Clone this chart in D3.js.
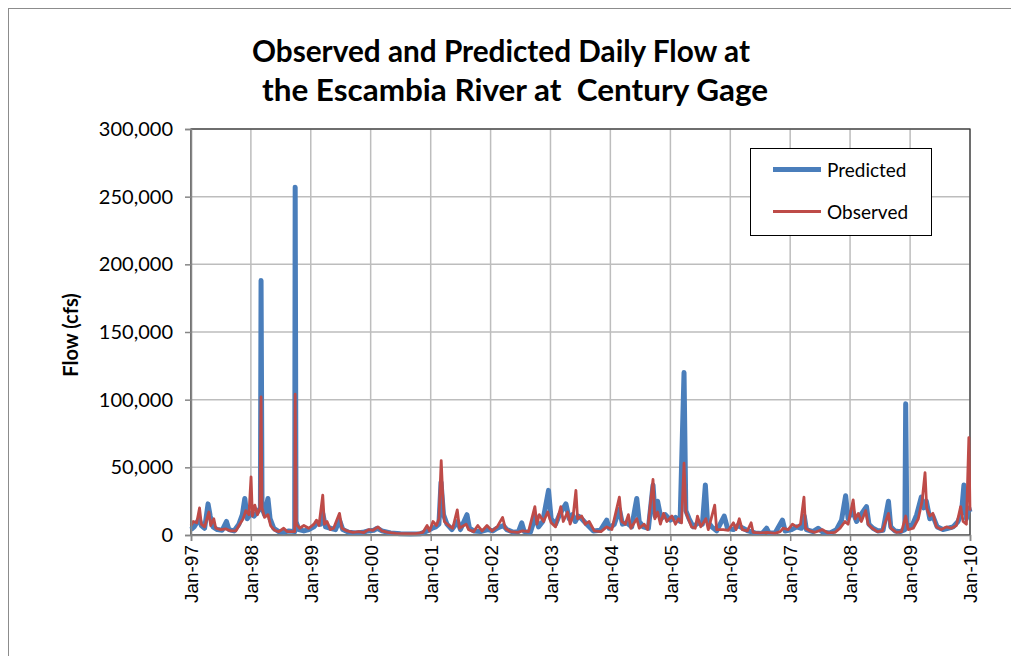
<!DOCTYPE html>
<html>
<head>
<meta charset="utf-8">
<script src="https://cdn.jsdelivr.net/npm/d3@7"></script>
<style>
  body { margin: 0; background: #fff; }
  svg text { font-family: Lato, "Open Sans", sans-serif; }
</style>
</head>
<body>
<div id="chart"></div>
<script>
// title lines
const titleLines = ["Observed and Predicted Daily Flow at", "the Escambia River at  Century Gage"];
const yTicks = [0, 50000, 100000, 150000, 200000, 250000, 300000];
const xTickYears = d3.range(1997, 2011);

// predicted flow (cfs)
const predicted = [
  ["1997-01-01", 4000], ["1997-01-20", 6000], ["1997-02-20", 12000], ["1997-03-05", 7000],
  ["1997-03-25", 5000], ["1997-04-15", 23000], ["1997-04-28", 14000], ["1997-05-15", 6000],
  ["1997-06-10", 4000], ["1997-07-10", 3500], ["1997-08-05", 10000], ["1997-08-20", 4000],
  ["1997-09-20", 3000], ["1997-10-20", 8000], ["1997-11-10", 15000], ["1997-11-25", 27000],
  ["1997-12-10", 12000], ["1997-12-30", 16000], ["1998-01-20", 14000], ["1998-02-10", 17000],
  ["1998-02-28", 20000], ["1998-03-04", 188000], ["1998-03-10", 20000], ["1998-03-25", 15000],
  ["1998-04-15", 27000], ["1998-04-28", 12000], ["1998-05-20", 5000], ["1998-06-20", 2500],
  ["1998-07-20", 2000], ["1998-08-20", 3000], ["1998-09-25", 2500], ["1998-09-28", 257000],
  ["1998-10-03", 10000], ["1998-10-20", 4000], ["1998-11-20", 3000], ["1998-12-20", 4000],
  ["1999-01-20", 6000], ["1999-02-10", 9000], ["1999-03-01", 8000], ["1999-03-15", 16000],
  ["1999-04-01", 6000], ["1999-05-01", 5000], ["1999-06-01", 4000], ["1999-06-25", 11000],
  ["1999-07-15", 4000], ["1999-08-20", 2000], ["1999-10-01", 1500], ["1999-11-15", 2000],
  ["1999-12-15", 3000], ["2000-01-20", 3500], ["2000-02-10", 5000], ["2000-03-10", 3000],
  ["2000-05-01", 1500], ["2000-07-01", 1000], ["2000-09-01", 800], ["2000-11-01", 1000],
  ["2000-12-10", 3000], ["2001-01-10", 5000], ["2001-02-01", 6000], ["2001-02-20", 8000],
  ["2001-03-05", 39000], ["2001-03-20", 15000], ["2001-04-10", 8000], ["2001-05-10", 4000],
  ["2001-06-15", 10000], ["2001-07-01", 4000], ["2001-08-10", 15000], ["2001-08-25", 5000],
  ["2001-09-20", 3000], ["2001-11-01", 2500], ["2001-12-15", 4000], ["2002-01-15", 3000],
  ["2002-02-10", 5000], ["2002-03-20", 7000], ["2002-04-10", 4000], ["2002-05-20", 2000],
  ["2002-06-20", 2500], ["2002-07-10", 9000], ["2002-07-25", 2500], ["2002-09-01", 2000],
  ["2002-10-01", 14000], ["2002-10-20", 6000], ["2002-11-15", 10000], ["2002-12-20", 33000],
  ["2003-01-05", 12000], ["2003-02-01", 8000], ["2003-02-25", 15000], ["2003-04-05", 23000],
  ["2003-04-25", 12000], ["2003-05-15", 15000], ["2003-06-01", 10000], ["2003-06-20", 14000],
  ["2003-07-10", 12000], ["2003-08-10", 8000], ["2003-09-20", 3000], ["2003-11-01", 3500],
  ["2003-12-10", 11000], ["2003-12-25", 5000], ["2004-01-25", 8000], ["2004-02-25", 19000],
  ["2004-03-15", 8000], ["2004-04-10", 9000], ["2004-05-10", 6000], ["2004-06-10", 27000],
  ["2004-06-25", 10000], ["2004-07-20", 6000], ["2004-08-20", 5000], ["2004-09-17", 37000],
  ["2004-09-30", 14000], ["2004-10-15", 25000], ["2004-11-05", 12000], ["2004-12-01", 15000],
  ["2005-01-01", 11000], ["2005-02-01", 13000], ["2005-03-01", 10000], ["2005-03-25", 120000],
  ["2005-04-05", 18000], ["2005-04-25", 12000], ["2005-05-20", 6000], ["2005-06-20", 9000],
  ["2005-07-15", 8000], ["2005-08-02", 37000], ["2005-08-15", 10000], ["2005-09-10", 6000],
  ["2005-10-10", 3000], ["2005-11-25", 14000], ["2005-12-15", 5000], ["2006-01-20", 4000],
  ["2006-02-15", 7000], ["2006-03-20", 5000], ["2006-04-20", 3000], ["2006-06-01", 1500],
  ["2006-07-15", 1200], ["2006-08-10", 5000], ["2006-08-25", 1500], ["2006-10-01", 1500],
  ["2006-11-15", 11000], ["2006-12-01", 3000], ["2007-01-10", 4000], ["2007-02-10", 6000],
  ["2007-03-10", 5000], ["2007-03-28", 14000], ["2007-04-10", 4000], ["2007-05-20", 2500],
  ["2007-06-20", 5000], ["2007-07-20", 2000], ["2007-09-01", 1500], ["2007-10-10", 4000],
  ["2007-11-10", 11000], ["2007-12-05", 29000], ["2007-12-20", 12000], ["2008-01-15", 18000],
  ["2008-02-10", 10000], ["2008-03-01", 14000], ["2008-04-10", 21000], ["2008-04-25", 8000],
  ["2008-05-20", 5000], ["2008-06-20", 3000], ["2008-07-20", 3500], ["2008-08-22", 25000],
  ["2008-09-05", 6000], ["2008-10-01", 3000], ["2008-11-01", 2500], ["2008-11-30", 4000],
  ["2008-12-05", 97000], ["2008-12-12", 8000], ["2009-01-10", 6000], ["2009-02-10", 15000],
  ["2009-03-10", 28000], ["2009-03-25", 20000], ["2009-04-10", 25000], ["2009-05-01", 12000],
  ["2009-05-20", 14000], ["2009-06-15", 6000], ["2009-07-20", 4000], ["2009-08-20", 5000],
  ["2009-09-20", 6000], ["2009-10-20", 10000], ["2009-11-10", 16000], ["2009-11-25", 37000],
  ["2009-12-10", 12000], ["2009-12-25", 20000], ["2010-01-01", 17000]
];

// observed flow (cfs)
const observed = [
  ["1997-01-01", 7000], ["1997-01-15", 10000], ["1997-02-05", 9000], ["1997-02-22", 20000],
  ["1997-03-05", 8000], ["1997-03-25", 6000], ["1997-04-20", 17000], ["1997-05-01", 7000],
  ["1997-05-20", 12000], ["1997-06-01", 5000], ["1997-07-01", 4000], ["1997-08-01", 4500],
  ["1997-09-01", 3000], ["1997-10-01", 3000], ["1997-10-25", 8000], ["1997-11-15", 12000],
  ["1997-12-01", 18000], ["1997-12-20", 15000], ["1998-01-02", 43000], ["1998-01-10", 14000],
  ["1998-01-25", 22000], ["1998-02-10", 15000], ["1998-02-25", 20000], ["1998-03-04", 102000],
  ["1998-03-10", 20000], ["1998-03-25", 13000], ["1998-04-15", 15000], ["1998-05-01", 7000],
  ["1998-05-25", 3500], ["1998-06-20", 2500], ["1998-07-20", 5000], ["1998-08-10", 2500],
  ["1998-09-25", 2500], ["1998-09-28", 104000], ["1998-10-05", 8000], ["1998-10-25", 5000],
  ["1998-11-20", 7000], ["1998-12-20", 5000], ["1999-01-20", 8000], ["1999-02-05", 11000],
  ["1999-02-20", 7000], ["1999-03-15", 29500], ["1999-03-25", 8000], ["1999-04-10", 10000],
  ["1999-05-01", 4000], ["1999-05-20", 5000], ["1999-06-25", 16000], ["1999-07-10", 5000],
  ["1999-08-10", 3000], ["1999-09-15", 2000], ["1999-10-20", 2500], ["1999-11-20", 1800],
  ["1999-12-20", 4000], ["2000-01-15", 3500], ["2000-02-15", 6000], ["2000-03-10", 3000],
  ["2000-04-15", 2000], ["2000-06-01", 1200], ["2000-08-01", 1000], ["2000-10-01", 1000],
  ["2000-11-15", 2000], ["2000-12-10", 7000], ["2000-12-25", 3000], ["2001-01-15", 10000],
  ["2001-02-05", 7000], ["2001-02-20", 12000], ["2001-03-06", 55000], ["2001-03-15", 30000],
  ["2001-03-25", 10000], ["2001-04-20", 7000], ["2001-05-15", 5000], ["2001-06-12", 18500],
  ["2001-06-25", 5000], ["2001-08-05", 8000], ["2001-08-20", 4000], ["2001-09-20", 2500],
  ["2001-10-15", 7000], ["2001-11-10", 3000], ["2001-12-10", 7000], ["2002-01-10", 3000],
  ["2002-02-10", 6000], ["2002-03-15", 13000], ["2002-04-01", 5000], ["2002-05-01", 2500],
  ["2002-06-15", 2000], ["2002-07-15", 3000], ["2002-08-20", 2500], ["2002-09-28", 21000],
  ["2002-10-10", 8000], ["2002-10-25", 15000], ["2002-11-20", 10000], ["2002-12-15", 17000],
  ["2003-01-05", 9000], ["2003-02-01", 6000], ["2003-03-05", 21000], ["2003-03-20", 10000],
  ["2003-04-15", 17000], ["2003-05-01", 8000], ["2003-05-20", 15000], ["2003-06-05", 33000],
  ["2003-06-15", 12000], ["2003-07-10", 14000], ["2003-08-01", 8000], ["2003-08-25", 10000],
  ["2003-09-25", 3000], ["2003-11-05", 2500], ["2003-12-10", 6000], ["2004-01-10", 4000],
  ["2004-02-25", 28000], ["2004-03-10", 10000], ["2004-04-01", 8000], ["2004-04-20", 15000],
  ["2004-05-05", 5000], ["2004-06-10", 12000], ["2004-06-25", 5000], ["2004-07-25", 8000],
  ["2004-08-15", 4000], ["2004-09-17", 41000], ["2004-09-28", 12000], ["2004-10-15", 17000],
  ["2004-11-01", 8000], ["2004-11-20", 16000], ["2004-12-10", 10000], ["2005-01-10", 14000],
  ["2005-02-01", 8000], ["2005-02-20", 12000], ["2005-03-10", 9000], ["2005-03-25", 53000],
  ["2005-04-05", 17000], ["2005-04-20", 12000], ["2005-05-10", 6000], ["2005-06-01", 5000],
  ["2005-06-15", 14000], ["2005-07-05", 6000], ["2005-08-05", 12000], ["2005-08-20", 4000],
  ["2005-09-28", 22000], ["2005-10-10", 4000], ["2005-11-20", 4000], ["2005-12-20", 3500],
  ["2006-01-20", 9000], ["2006-02-05", 4000], ["2006-02-25", 12000], ["2006-03-15", 4000],
  ["2006-04-15", 3000], ["2006-05-08", 9000], ["2006-05-20", 2000], ["2006-07-01", 1500],
  ["2006-08-15", 2000], ["2006-10-01", 1200], ["2006-11-01", 2500], ["2006-11-20", 5000],
  ["2006-12-20", 4000], ["2007-01-15", 8000], ["2007-02-10", 6000], ["2007-03-05", 8000],
  ["2007-03-26", 28000], ["2007-04-05", 5000], ["2007-05-01", 3000], ["2007-06-01", 2000],
  ["2007-07-15", 4000], ["2007-08-20", 1500], ["2007-10-01", 2000], ["2007-11-01", 5000],
  ["2007-12-01", 10000], ["2007-12-20", 8000], ["2008-01-20", 26000], ["2008-02-01", 12000],
  ["2008-02-20", 16000], ["2008-03-10", 10000], ["2008-04-05", 18000], ["2008-04-20", 8000],
  ["2008-05-15", 5000], ["2008-06-15", 2500], ["2008-07-15", 3000], ["2008-08-22", 16000],
  ["2008-09-05", 5000], ["2008-10-10", 2000], ["2008-11-10", 2500], ["2008-12-05", 14000],
  ["2008-12-20", 4000], ["2009-01-20", 5000], ["2009-02-20", 12000], ["2009-03-15", 25000],
  ["2009-04-02", 46000], ["2009-04-12", 20000], ["2009-05-01", 14000], ["2009-05-20", 16000],
  ["2009-06-10", 6000], ["2009-07-10", 4000], ["2009-08-10", 6000], ["2009-09-10", 5000],
  ["2009-10-10", 7000], ["2009-11-05", 21000], ["2009-11-20", 10000], ["2009-12-10", 8000],
  ["2009-12-25", 72000], ["2010-01-01", 18000]
];

const W = 1011, H = 656;
const margin = { top: 129, right: 41, bottom: 121, left: 191 };
const width = W - margin.left - margin.right;
const height = H - margin.top - margin.bottom;

const parse = d3.timeParse("%Y-%m-%d");

const svg = d3.select("#chart")
  .append("svg")
  .attr("width", W)
  .attr("height", H);

// outer chart border
svg.append("rect")
  .attr("x", 8.5).attr("y", 8.5)
  .attr("width", W).attr("height", H)
  .attr("fill", "none")
  .attr("stroke", "#8c8c8c");

// title
svg.selectAll(".title")
  .data(titleLines)
  .enter().append("text")
  .attr("class", "title")
  .attr("x", (d, i) => i === 0 ? 501 : 515)
  .attr("y", (d, i) => 62 + i * 39)
  .attr("text-anchor", "middle")
  .style("white-space", "pre")
  .style("font-size", "31px")
  .style("font-weight", "bold")
  .attr("textLength", (d, i) => i === 0 ? 498 : 506)
  .attr("lengthAdjust", "spacingAndGlyphs")
  .text(d => d);

const g = svg.append("g")
  .attr("transform", `translate(${margin.left},${margin.top})`);

const x = d3.scaleTime()
  .domain([new Date(1997, 0, 1), new Date(2010, 0, 1)])
  .range([0, width]);
const y = d3.scaleLinear()
  .domain([0, 300000])
  .range([height, 0]);

// gridlines
g.selectAll(".hgrid")
  .data(yTicks)
  .enter().append("line")
  .attr("x1", 0).attr("x2", width)
  .attr("y1", d => y(d)).attr("y2", d => y(d))
  .attr("stroke", "#bdbdbd")
  .attr("stroke-width", 1.5);
g.selectAll(".vgrid")
  .data(xTickYears)
  .enter().append("line")
  .attr("x1", d => x(new Date(d, 0, 1))).attr("x2", d => x(new Date(d, 0, 1)))
  .attr("y1", 0).attr("y2", height)
  .attr("stroke", "#bdbdbd")
  .attr("stroke-width", 1.5);

// plot area border
g.append("rect")
  .attr("width", width).attr("height", height)
  .attr("fill", "none")
  .attr("stroke", "#303030")
  .attr("stroke-width", 1.2);

// series
const line = d3.line()
  .x(d => x(parse(d[0])))
  .y(d => y(d[1]));

g.append("path")
  .datum(predicted)
  .attr("fill", "none")
  .attr("stroke", "#4a7ebb")
  .attr("stroke-width", 5)
  .attr("stroke-linejoin", "round")
  .attr("d", line);

g.append("path")
  .datum(observed)
  .attr("fill", "none")
  .attr("stroke", "#be4b48")
  .attr("stroke-width", 2.8)
  .attr("stroke-linejoin", "round")
  .attr("d", line);

// axes
const yAxis = g.append("g")
  .call(d3.axisLeft(y).tickValues(yTicks).tickSize(6).tickPadding(12).tickFormat(d3.format(",")));
yAxis.selectAll("text")
  .style("font-size", "20px")
  .style("font-family", "Lato, sans-serif")
  .attr("fill", "#000");

const xAxis = g.append("g")
  .attr("transform", `translate(0,${height})`)
  .call(d3.axisBottom(x)
    .tickValues(xTickYears.map(d => new Date(d, 0, 1)))
    .tickSize(6)
    .tickFormat(d3.timeFormat("Jan-%y")));
xAxis.selectAll("text")
  .attr("transform", "rotate(-90)")
  .attr("x", -10)
  .attr("y", 0)
  .attr("dy", "0.35em")
  .style("text-anchor", "end")
  .style("font-size", "19px")
  .style("font-family", "'Liberation Sans', Arial, sans-serif")
  .attr("fill", "#000");

[yAxis, xAxis].forEach(a => {
  a.select(".domain").attr("stroke", "#868686").attr("stroke-width", 1.5);
  a.selectAll(".tick line").attr("stroke", "#868686").attr("stroke-width", 1.5);
});

// y axis title
svg.append("text")
  .attr("transform", "rotate(-90)")
  .attr("x", -335)
  .attr("y", 78)
  .attr("text-anchor", "middle")
  .style("font-size", "20px")
  .style("font-weight", "bold")
  .text("Flow (cfs)");

// legend
const legend = svg.append("g");
legend.append("rect")
  .attr("x", 750.5).attr("y", 148.5)
  .attr("width", 181).attr("height", 87)
  .attr("fill", "#fff")
  .attr("stroke", "#000");

const legendItems = [
  { name: "Predicted", color: "#4a7ebb", w: 5, y: 169.5 },
  { name: "Observed", color: "#be4b48", w: 2.8, y: 211.5 }
];
legendItems.forEach(it => {
  legend.append("line")
    .attr("x1", 773).attr("x2", 821)
    .attr("y1", it.y).attr("y2", it.y)
    .attr("stroke", it.color)
    .attr("stroke-width", it.w);
  legend.append("text")
    .attr("x", 827)
    .attr("y", it.y + 7)
    .style("font-size", "19px")
    .text(it.name);
});
</script>
</body>
</html>
